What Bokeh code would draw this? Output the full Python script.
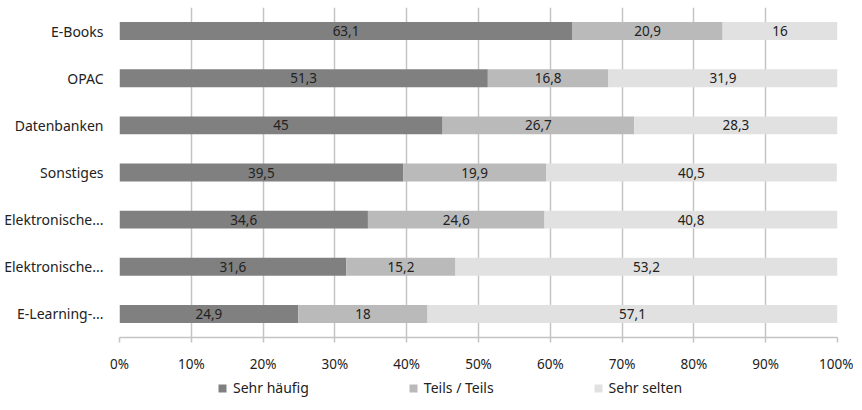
from bokeh.plotting import figure
from bokeh.layouts import column
from bokeh.models import ColumnDataSource, Range1d, FixedTicker, PrintfTickFormatter, Legend, LegendItem
from bokeh.core.properties import value
from bokeh.embed import file_html
from bokeh.resources import INLINE

categories = ["E-Books", "OPAC", "Datenbanken", "Sonstiges",
              "Elektronische...", "Elektronische...", "E-Learning-..."]
sehr_haeufig = [63.1, 51.3, 45.0, 39.5, 34.6, 31.6, 24.9]
teils_teils = [20.9, 16.8, 26.7, 19.9, 24.6, 15.2, 18.0]
sehr_selten = [16.0, 31.9, 28.3, 40.5, 40.8, 53.2, 57.1]
series_names = ["Sehr häufig", "Teils / Teils", "Sehr selten"]
series_colors = ["#808080", "#bababa", "#e1e1e1"]
x_ticks = [0, 10, 20, 30, 40, 50, 60, 70, 80, 90, 100]

FONT = "Noto Sans"
TXT = "#222222"

n = len(categories)
ypos = [n - 1 - i for i in range(n)]

p = figure(frame_width=718, frame_height=330, output_backend="svg", toolbar_location=None,
           x_range=Range1d(0, 100), y_range=Range1d(-0.5, n - 0.5))
p.min_border_left = 119
p.min_border_right = 16
p.min_border_top = 7
p.min_border_bottom = 35
p.outline_line_color = None
p.background_fill_color = "white"
p.border_fill_color = "white"

series = [sehr_haeufig, teils_teils, sehr_selten]
sources = []
left = [0.0] * n
for name, vals, col in zip(series_names, series, series_colors):
    right = [l + v for l, v in zip(left, vals)]
    src = ColumnDataSource(dict(y=ypos, left=left, right=right,
                                xc=[(l + r) / 2 for l, r in zip(left, right)],
                                lab=[f"{v:g}".replace(".", ",") for v in vals]))
    p.hbar(y="y", left="left", right="right", height=0.38, source=src,
           fill_color=col, line_color=None)
    p.text(x="xc", y="y", text="lab", source=src, text_align="center",
           text_baseline="middle", text_font=value(FONT), text_font_size="13.5px",
           text_color=TXT)
    sources.append(src)
    left = right

# grid
p.xgrid.ticker = FixedTicker(ticks=x_ticks)
p.xgrid.grid_line_color = "#c4c4c4"
p.xgrid.grid_line_width = 1.5
p.ygrid.grid_line_color = None

# x axis
p.xaxis.ticker = FixedTicker(ticks=x_ticks)
p.xaxis.formatter = PrintfTickFormatter(format="%d%%")
p.xaxis.axis_line_color = "#c4c4c4"
p.xaxis.axis_line_width = 1.5
p.xaxis.major_tick_line_color = "#c4c4c4"
p.xaxis.major_tick_line_width = 1.5
p.xaxis.major_tick_out = 5
p.xaxis.major_tick_in = 0
p.xaxis.minor_tick_line_color = None
p.xaxis.major_label_standoff = 12
p.xaxis.major_label_text_font = FONT
p.xaxis.major_label_text_font_size = "13.5px"
p.xaxis.major_label_text_color = TXT

# y axis
p.yaxis.ticker = FixedTicker(ticks=ypos)
p.yaxis.major_label_overrides = {y: c for y, c in zip(ypos, categories)}
p.yaxis.axis_line_color = None
p.yaxis.major_tick_line_color = None
p.yaxis.minor_tick_line_color = None
p.yaxis.major_label_standoff = 10
p.yaxis.major_label_text_font = FONT
p.yaxis.major_label_text_font_size = "14px"
p.yaxis.major_label_text_color = TXT

# legend strip (separate figure below the chart; its bars sit outside its view)
lg = figure(width=853, height=22, output_backend="svg", toolbar_location=None,
            x_axis_type=None, y_axis_type=None, x_range=Range1d(0, 100),
            y_range=Range1d(100, 101), min_border=0)
lg.outline_line_color = None
lg.xgrid.grid_line_color = None
lg.ygrid.grid_line_color = None
items = []
for name, col, src in zip(series_names, series_colors, sources):
    rr = lg.hbar(y="y", left="left", right="right", height=0.38, source=src,
                 fill_color=col, line_color=None)
    items.append(LegendItem(label=name, renderers=[rr]))
legend = Legend(items=items, orientation="horizontal", location=(98, 0))
legend.border_line_color = None
legend.background_fill_alpha = 0
legend.glyph_width = 10
legend.glyph_height = 10
legend.label_standoff = 6
legend.spacing = 99
legend.padding = 1
legend.margin = 0
legend.label_text_font = FONT
legend.label_text_font_size = "14px"
legend.label_text_color = TXT
lg.add_layout(legend, "center")

layout = column(p, lg, spacing=0)
open("out.html", "w").write(file_html(layout, INLINE))
